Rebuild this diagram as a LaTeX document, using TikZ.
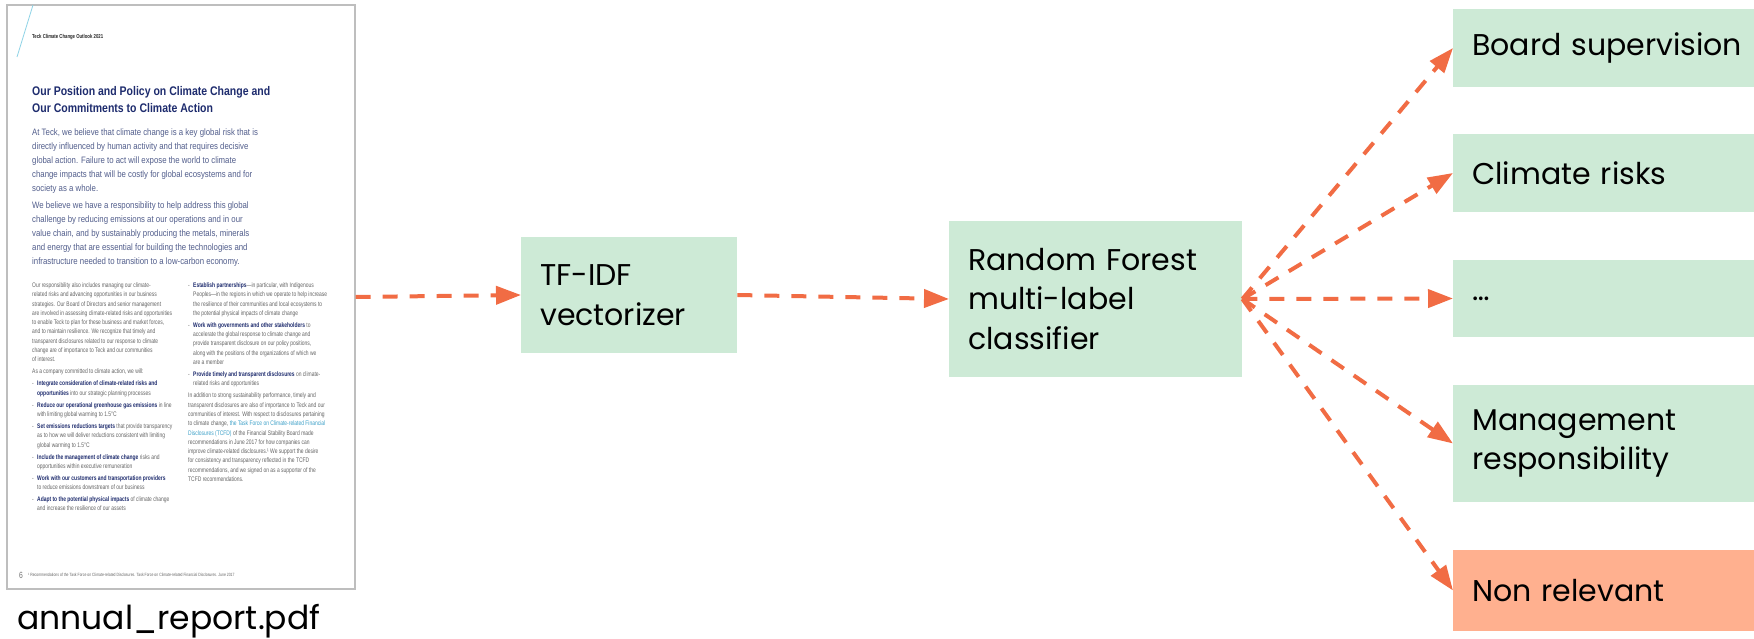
\documentclass[tikz,border=0pt]{standalone}
\usepackage{fontspec}
\setmainfont{Poppins}
\newfontfamily\pagefont[FakeStretch=0.75]{Liberation Sans}
\newfontfamily\headfont[FakeStretch=0.84]{Liberation Sans}
\usetikzlibrary{arrows.meta,positioning}

\definecolor{boxgreen}{RGB}{205,234,214}
\definecolor{boxsalmon}{RGB}{255,176,143}
\definecolor{flow}{RGB}{241,108,68}
\definecolor{navy}{RGB}{30,44,110}
\definecolor{intro}{RGB}{82,94,140}
\definecolor{bodygray}{RGB}{100,100,100}
\definecolor{linkblue}{RGB}{60,160,200}
\definecolor{frame}{RGB}{190,190,190}

% bullet, hanging indent and bold lead-in for the report page
\newcommand\blt{\makebox[5pt][l]{-}}
\newcommand\bindent{\hspace*{5pt}}
\newcommand\leadin[1]{{\bfseries\color{navy}#1}}

\tikzset{
  stage/.style={fill=boxgreen, anchor=west, align=left, inner xsep=19pt,
    inner ysep=0pt, font=\fontsize{30}{39.5}\selectfont},
  flowarrow/.style={draw=flow, line width=4pt, dash pattern=on 15pt off 12pt,
    -{Triangle[length=25pt,width=18pt]}},
  pagetext/.style={anchor=north west, inner sep=0pt, align=left},
}

\begin{document}
\begin{tikzpicture}[x=1pt,y=-1pt]
\useasboundingbox (0,0) rectangle (1754,639);

% the report page
\node[draw=frame, fill=white, line width=1.2pt, minimum width=348pt,
  minimum height=584pt, inner sep=0pt] (doc) at (181,297) {};
\draw[color={rgb,255:red,140;green,210;blue,230}, line width=0.8pt] (33,5) -- (17,57);
\node[anchor=west, inner sep=0pt, text=black!85,
  font=\pagefont\bfseries\fontsize{5.7}{7}\selectfont] (head) at (32,37)
  {Teck Climate Change Outlook 2021};
\node[pagetext, text=navy, font=\headfont\bfseries\fontsize{12.5}{17}\selectfont]
  (title) at (32,86)
  {Our Position and Policy on Climate Change and\\Our Commitments to Climate Action};
\node[pagetext, text=intro, font=\headfont\fontsize{9.3}{14}\selectfont]
  (intro) at (32,128.5)
  {At Teck, we believe that climate change is a key global risk that is\\
   directly influenced by human activity and that requires decisive\\
   global action. Failure to act will expose the world to climate\\
   change impacts that will be costly for global ecosystems and for\\
   society as a whole.\\[3pt]
   We believe we have a responsibility to help address this global\\
   challenge by reducing emissions at our operations and in our\\
   value chain, and by sustainably producing the metals, minerals\\
   and energy that are essential for building the technologies and\\
   infrastructure needed to transition to a low-carbon economy.};
\node[pagetext, text=bodygray, font=\pagefont\fontsize{6.6}{9.3}\selectfont]
  (colA) at (32,282.5)
  {Our responsibility also includes managing our climate-\\
   related risks and advancing opportunities in our business\\
   strategies. Our Board of Directors and senior management\\
   are involved in assessing climate-related risks and opportunities\\
   to enable Teck to plan for these business and market forces,\\
   and to maintain resilience. We recognize that timely and\\
   transparent disclosures related to our response to climate\\
   change are of importance to Teck and our communities\\
   of interest.\\[2.7pt]
   As a company committed to climate action, we will:\\[2.7pt]
   \blt\leadin{Integrate consideration of climate-related risks and}\\
   \bindent\leadin{opportunities} into our strategic planning processes\\[2.7pt]
   \blt\leadin{Reduce our operational greenhouse gas emissions} in line\\
   \bindent with limiting global warming to 1.5°C\\[2.7pt]
   \blt\leadin{Set emissions reductions targets} that provide transparency\\
   \bindent as to how we will deliver reductions consistent with limiting\\
   \bindent global warming to 1.5°C\\[2.7pt]
   \blt\leadin{Include the management of climate change} risks and\\
   \bindent opportunities within executive remuneration\\[2.7pt]
   \blt\leadin{Work with our customers and transportation providers}\\
   \bindent to reduce emissions downstream of our business\\[2.7pt]
   \blt\leadin{Adapt to the potential physical impacts} of climate change\\
   \bindent and increase the resilience of our assets};
\node[pagetext, text=bodygray, font=\pagefont\fontsize{6.6}{9.3}\selectfont]
  (colB) at (188,282.5)
  {\blt\leadin{Establish partnerships}—in particular, with Indigenous\\
   \bindent Peoples—in the regions in which we operate to help increase\\
   \bindent the resilience of their communities and local ecosystems to\\
   \bindent the potential physical impacts of climate change\\[2.7pt]
   \blt\leadin{Work with governments and other stakeholders} to\\
   \bindent accelerate the global response to climate change and\\
   \bindent provide transparent disclosure on our policy positions,\\
   \bindent along with the positions of the organizations of which we\\
   \bindent are a member\\[2.7pt]
   \blt\leadin{Provide timely and transparent disclosures} on climate-\\
   \bindent related risks and opportunities\\[2.7pt]
   In addition to strong sustainability performance, timely and\\
   transparent disclosures are also of importance to Teck and our\\
   communities of interest. With respect to disclosures pertaining\\
   to climate change, \textcolor{linkblue}{the Task Force on Climate-related Financial}\\
   \textcolor{linkblue}{Disclosures (TCFD)} of the Financial Stability Board made\\
   recommendations in June 2017 for how companies can\\
   improve climate-related disclosures.¹ We support the desire\\
   for consistency and transparency reflected in the TCFD\\
   recommendations, and we signed on as a supporter of the\\
   TCFD recommendations.};
\node[anchor=west, inner sep=0pt, text=black!55,
  font=\pagefont\fontsize{9}{10}\selectfont] (pnum) at (19,575) {6};
\node[anchor=west, inner sep=0pt, text=black!60,
  font=\pagefont\fontsize{4.6}{5}\selectfont] (foot) at (28,575)
  {¹ Recommendations of the Task Force on Climate-related Disclosures. Task Force on Climate-related Financial Disclosures. June 2017};
\node[anchor=west, inner sep=0pt, font=\fontsize{33}{40}\selectfont]
  (fname) at (17,621) {annual\_report.pdf};

% pipeline
\node[stage, text width=178pt, minimum height=116pt] (tfidf) at (521,295)
  {TF-IDF\\vectorizer};
\node[stage, text width=255pt, minimum height=156pt] (clf) at (949,299)
  {Random Forest\\multi-label\\classifier};

% output labels
\node[stage, text width=300pt, minimum height=78pt] (board) at (1453,48)
  {Board supervision};
\node[stage, text width=300pt, minimum height=78pt] (climate) at (1453,173)
  {Climate risks};
\node[stage, text width=300pt, minimum height=77pt] (more) at (1453,298.5)
  {…};
\node[stage, text width=300pt, minimum height=117pt] (mgmt) at (1453,443.5)
  {Management\\responsibility};
\node[stage, fill=boxsalmon, text width=300pt, minimum height=81pt] (nonrel)
  at (1453,590.5) {Non relevant};

\draw[flowarrow] (doc.east) -- (tfidf.west);
\draw[flowarrow] (tfidf.east) -- (clf.west);
\foreach \out in {board,climate,more,mgmt,nonrel}
  \draw[flowarrow] (clf.east) -- (\out.west);
\end{tikzpicture}
\end{document}
